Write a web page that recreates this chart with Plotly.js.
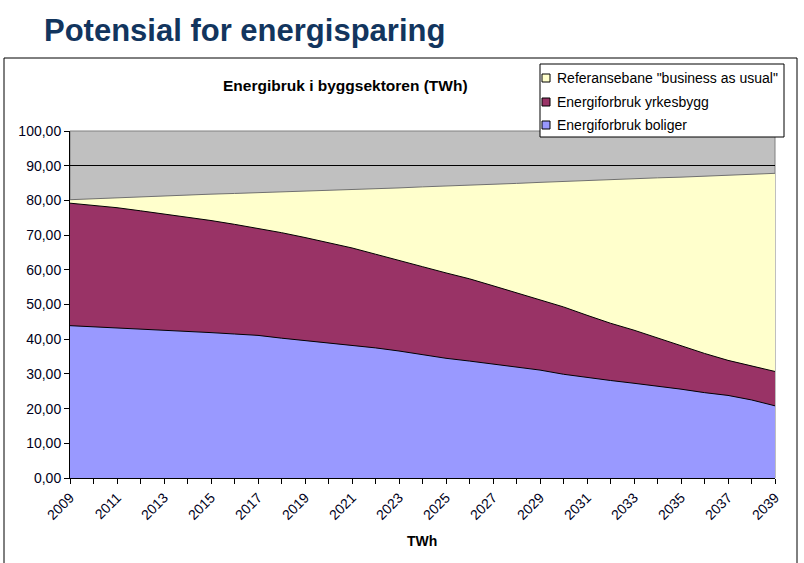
<!DOCTYPE html>
<html>
<head>
<meta charset="utf-8">
<script src="https://cdn.plot.ly/plotly-3.0.1.min.js"></script>
<style>
html,body{margin:0;padding:0;background:#fff;}
#chart{width:804px;height:563px;}
</style>
</head>
<body>
<div id="chart"></div>
<script>
// ---- data ----
const years = [2009,2010,2011,2012,2013,2014,2015,2016,2017,2018,2019,2020,2021,2022,2023,2024,2025,2026,2027,2028,2029,2030,2031,2032,2033,2034,2035,2036,2037,2038,2039];
const referansebane = [80.2,80.5,80.8,81.0,81.3,81.5,81.8,82.0,82.2,82.4,82.6,82.9,83.2,83.4,83.6,83.9,84.1,84.4,84.7,84.9,85.2,85.5,85.8,86.0,86.2,86.5,86.7,87.0,87.3,87.6,87.8];
const yrkesbygg = [79.2,78.6,77.9,77.0,76.1,75.1,74.2,73.1,72.0,70.7,69.3,67.8,66.3,64.5,62.6,60.9,59.1,57.4,55.4,53.4,51.3,49.3,46.9,44.6,42.6,40.3,38.1,35.9,33.9,32.3,30.7];
const boliger = [43.9,43.6,43.3,43.0,42.6,42.3,41.9,41.5,41.1,40.3,39.6,39.0,38.3,37.5,36.6,35.5,34.5,33.7,32.8,32.0,31.1,29.9,28.9,28.1,27.3,26.5,25.6,24.6,23.8,22.5,20.8];
const seriesNames = ['Referansebane "business as usual"','Energiforbruk yrkesbygg','Energiforbruk boliger'];
const seriesColors = ['#FFFFCC','#993366','#9999FF'];
const xTickVals = [2009,2011,2013,2015,2017,2019,2021,2023,2025,2027,2029,2031,2033,2035,2037,2039];
const yTickVals = [0,10,20,30,40,50,60,70,80,90,100];
const yTickText = ['0,00','10,00','20,00','30,00','40,00','50,00','60,00','70,00','80,00','90,00','100,00'];

// ---- layout geometry ----
const W = 804, H = 563;
const mL = 70, mR = 29, mT = 131, mB = 85;
const pw = W - mL - mR, ph = H - mT - mB;
const px = x => (x - mL) / pw;
const py = y => (H - mB - y) / ph;

const font = 'Arial, "Liberation Sans", sans-serif';
const seriesData = [referansebane, yrkesbygg, boliger];
const lineColors = ['#707070','#000000','#000000'];

const traces = seriesData.map((vals, i) => ({
  x: years,
  y: vals,
  type: 'scatter',
  mode: 'lines',
  name: seriesNames[i],
  fill: 'tozeroy',
  fillcolor: seriesColors[i],
  line: {color: lineColors[i], width: 1},
  hoverinfo: 'x+y+name',
  showlegend: false
}));

const shapes = [
  // outer chart frame
  {type:'rect', xref:'paper', yref:'paper', x0:px(4), x1:px(797), y0:py(590), y1:py(58),
   line:{color:'#000', width:1}, fillcolor:'rgba(0,0,0,0)', layer:'below'},
  // plot area border (grey)
  {type:'rect', xref:'paper', yref:'paper', x0:0, x1:1, y0:0, y1:1,
   line:{color:'#808080', width:1}, fillcolor:'rgba(0,0,0,0)', layer:'below'},
  // legend box
  {type:'rect', xref:'paper', yref:'paper', x0:px(540), x1:px(784), y0:py(137), y1:py(64),
   line:{color:'#000', width:1}, fillcolor:'#ffffff', layer:'above'}
];
const annotations = [
  {text:'<b>Potensial for energisparing</b>', xref:'paper', yref:'paper', x:px(42), y:py(30),
   xanchor:'left', yanchor:'middle', showarrow:false, font:{family:font, size:31, color:'#12355E'}},
  {text:'<b>Energibruk i byggsektoren (TWh)</b>', xref:'paper', yref:'paper', x:px(345), y:py(86),
   xanchor:'center', yanchor:'middle', showarrow:false, font:{family:font, size:15.5, color:'#000'}},
  {text:'<b>TWh</b>', xref:'paper', yref:'paper', x:px(422), y:py(541),
   xanchor:'center', yanchor:'middle', showarrow:false, font:{family:font, size:14, color:'#000'}}
];
const legendY = [78, 102, 125];
seriesNames.forEach((n, i) => {
  shapes.push({type:'rect', xref:'paper', yref:'paper', x0:px(542), x1:px(550), y0:py(legendY[i]+4), y1:py(legendY[i]-4),
    line:{color:'#000', width:1}, fillcolor:seriesColors[i], layer:'above'});
  annotations.push({text:n, xref:'paper', yref:'paper', x:px(555), y:py(legendY[i]),
    xanchor:'left', yanchor:'middle', showarrow:false, font:{family:font, size:14, color:'#000'}});
});

const layout = {
  width: W, height: H,
  margin: {l: mL, r: mR, t: mT, b: mB, pad: 0},
  paper_bgcolor: '#ffffff',
  plot_bgcolor: '#C0C0C0',
  showlegend: false,
  xaxis: {
    range: [2009, 2039],
    tickvals: xTickVals,
    ticktext: xTickVals.map(String),
    tickangle: -45,
    ticks: 'outside', ticklen: 5, tickcolor: '#000', tickwidth: 1,
    minor: {dtick: 1, tick0: 2009, ticks: 'outside', ticklen: 5, tickcolor: '#000', showgrid: false},
    showline: true, linecolor: '#000', linewidth: 1,
    showgrid: false, zeroline: false,
    tickfont: {family: font, size: 14, color: '#000020'},
    fixedrange: true
  },
  yaxis: {
    range: [0, 100],
    tickvals: yTickVals,
    ticktext: yTickText,
    ticks: 'outside', ticklen: 5, tickcolor: '#000', tickwidth: 1,
    showline: true, linecolor: '#000', linewidth: 1,
    showgrid: true, gridcolor: '#000', gridwidth: 1,
    zeroline: false,
    tickfont: {family: font, size: 14, color: '#000020'},
    fixedrange: true
  },
  shapes: shapes,
  annotations: annotations
};

Plotly.newPlot('chart', traces, layout, {displayModeBar: false, staticPlot: true});
</script>
</body>
</html>
